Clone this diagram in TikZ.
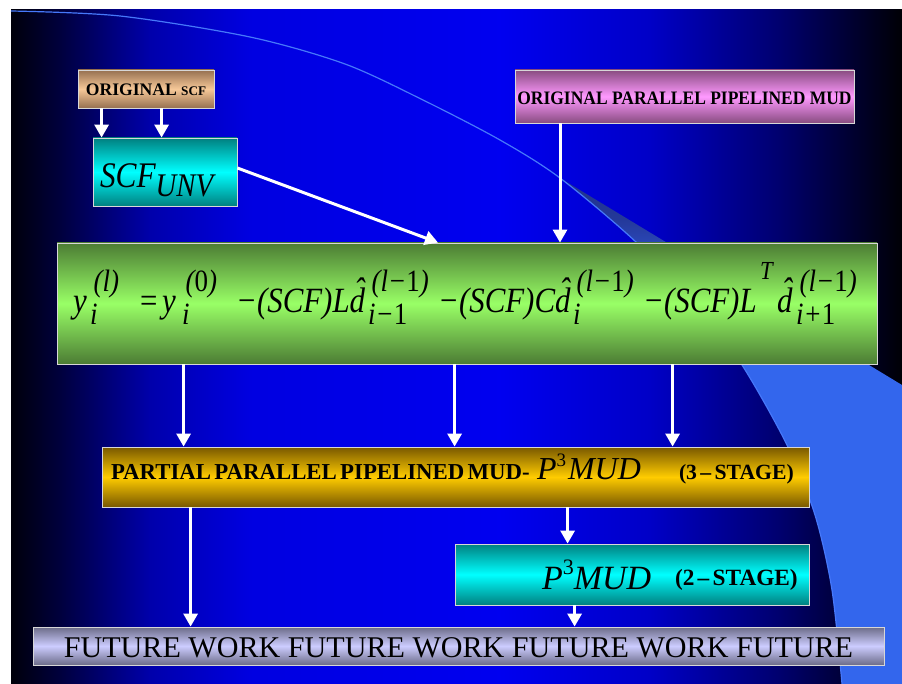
\documentclass[tikz,border=0pt]{standalone}
\usepackage{fontspec}
\setmainfont{Liberation Serif}
\usepackage{graphicx}
\usetikzlibrary{arrows.meta}

\definecolor{brownD}{RGB}{150,112,80}
\definecolor{brownL}{RGB}{246,200,152}
\definecolor{cyanD}{RGB}{0,128,128}
\definecolor{cyanL}{RGB}{0,255,255}
\definecolor{pinkD}{RGB}{136,76,128}
\definecolor{pinkL}{RGB}{255,153,255}
\definecolor{greenD}{RGB}{76,124,52}
\definecolor{greenL}{RGB}{153,255,102}
\definecolor{goldD}{RGB}{120,88,0}
\definecolor{goldL}{RGB}{255,204,0}
\definecolor{lavD}{RGB}{108,108,136}
\definecolor{lavL}{RGB}{204,204,255}
\definecolor{arcline}{RGB}{70,120,250}
\definecolor{boxedge}{RGB}{215,215,215}

\pgfdeclarehorizontalshading{bgshade}{100bp}{rgb(0bp)=(0,0,0.04); rgb(25bp)=(0,0,0.04); rgb(27.75bp)=(0,0,0.24); rgb(32.8bp)=(0,0,0.67); rgb(38.4bp)=(0,0,0.88); rgb(52.45bp)=(0,0,0.94); rgb(60.85bp)=(0,0,0.78); rgb(68.15bp)=(0,0,0.43); rgb(75bp)=(0,0,0.02); rgb(100bp)=(0,0,0.02)}
\pgfdeclareverticalshading{wedgeshade}{100bp}{rgb(0bp)=(0.2,0.4,0.93); rgb(61bp)=(0.2,0.4,0.93); rgb(67bp)=(0.18,0.31,0.78); rgb(71bp)=(0.14,0.22,0.6); rgb(75bp)=(0.13,0.2,0.55); rgb(100bp)=(0.13,0.2,0.55)}

% equation helpers
\newcommand\pc[2]{\makebox[#1pt][l]{\scalebox{0.87}[1]{#2}}}
\newcommand\mfont{\fontsize{35.5}{38}\selectfont\itshape}
\newcommand\scrf{\fontsize{31}{32}\selectfont\itshape}
\newcommand\scpair[2]{\rlap{\raisebox{21pt}{\hspace{4pt}\scrf #1}}\raisebox{-12pt}{\scrf #2}}
\newcommand\hatd{\rlap{\hspace{5pt}\raisebox{10.5pt}{\char"02C6}}d}

\tikzset{
  slidebox/.style={draw=boxedge, line width=0.8pt, inner sep=0pt, text depth=0pt, anchor=center},
  arr/.style={draw=white, line width=3pt, -{Triangle[width=14pt,length=13pt]}},
}

\begin{document}
\begin{tikzpicture}[x=1pt,y=-1pt]
\useasboundingbox (0,0) rectangle (902,684);
\fill[white] (0,0) rectangle (902,684);
\shade[shading=bgshade] (11,10) rectangle (902,684);
\shade[shading=wedgeshade] plot[smooth] coordinates {(560,178) (637,243) (700,310) (742,365) (787,445) (815,515) (832,590) (842,684)} -- (902,684) -- (902,385) -- cycle;
\draw[arcline, line width=1.2pt] plot[smooth] coordinates {(11,11) (120,16) (250,37) (345,64) (423,100) (500,140) (560,178) (637,243) (700,310) (742,365) (787,445) (815,515) (832,590) (842,684)};

% boxes
\node[slidebox, top color=brownD, bottom color=brownD, middle color=brownL,
  minimum width=136pt, minimum height=38pt, text height=14pt] (osc) at (146,89)
  {\bfseries\fontsize{17.6}{19}\selectfont ORIGINAL {\fontsize{13.2}{14}\selectfont SCF}};

\node[slidebox, top color=cyanD, bottom color=cyanD, middle color=cyanL,
  minimum width=144pt, minimum height=68pt, text height=32pt, text width=130pt, align=left, inner xsep=7pt] (scf) at (165,172)
  {\scalebox{0.87}[1]{\itshape\fontsize{36}{40}\selectfont SCF\raisebox{-9pt}{\fontsize{33}{36}\selectfont UNV}}};

\node[slidebox, top color=pinkD, bottom color=pinkD, middle color=pinkL,
  minimum width=339pt, minimum height=53pt, text height=17pt] (opm) at (684.5,96.5)
  {\scalebox{0.92}[1]{\bfseries\fontsize{19}{21}\selectfont ORIGINAL PARALLEL PIPELINED MUD}};

\node[slidebox, top color=greenD, bottom color=greenD, middle color=greenL,
  minimum width=820pt, minimum height=121pt] (green) at (467,303.5) {};
\node[anchor=base west, inner sep=0pt] (eq) at (73,313)
  {\mfont\pc{17}{y}\pc{48}{\scpair{(l)}{i}}\pc{24}{=}\pc{20}{y}\pc{54}{\scpair{({\upshape 0})}{i}}\pc{132}{−(SCF)L\hatd}\pc{70}{\scpair{(l−{\upshape 1})}{i−{\upshape 1}}}\pc{135}{−(SCF)C\hatd}\pc{70}{\scpair{(l−{\upshape 1})}{i}}\pc{117}{−(SCF)L}\pc{17}{\raisebox{33pt}{\fontsize{26}{27}\selectfont T}}\pc{19}{\hatd}\pc{61}{\scpair{(l−{\upshape 1})}{i+{\upshape 1}}}};

\node[slidebox, top color=goldD, bottom color=goldD, middle color=goldL,
  minimum width=707pt, minimum height=60pt, text height=4pt, text width=689pt, align=left, inner xsep=9pt] (orange) at (455.5,477)
  {\makebox[426pt][l]{\bfseries\fontsize{22.8}{24}\selectfont PARTIAL PARALLEL PIPELINED MUD-}\makebox[142pt][l]{\itshape\fontsize{32}{34}\selectfont P\raisebox{13pt}{\upshape\fontsize{19}{20}\selectfont 3}\hspace{2pt}MUD}{\bfseries\fontsize{21.7}{23}\selectfont (3 – STAGE)}};

\node[slidebox, top color=cyanD, bottom color=cyanD, middle color=cyanL,
  minimum width=354pt, minimum height=61pt, text height=29pt, text width=354pt, align=left, inner xsep=0pt] (cyan2) at (632,574.5)
  {\hspace*{87pt}\makebox[133pt][l]{\itshape\fontsize{34}{36}\selectfont P\raisebox{15pt}{\upshape\fontsize{22}{24}\selectfont 3}MUD}\raisebox{4pt}{\bfseries\fontsize{23.3}{25}\selectfont (2 – STAGE)}};

\node[slidebox, top color=lavD, bottom color=lavD, middle color=lavL,
  minimum width=851pt, minimum height=38pt, text height=22pt] (fut) at (458.5,646)
  {\fontsize{30.1}{32}\selectfont FUTURE WORK FUTURE WORK FUTURE WORK FUTURE};

% connectors
\draw[arr] ([xshift=24pt]osc.south west) -- ([xshift=24pt]osc.south west |- scf.north);
\draw[arr] ([xshift=84pt]osc.south west) -- ([xshift=84pt]osc.south west |- scf.north);
\draw[arr] ([yshift=4pt]scf.east) -- ([xshift=-29pt]green.north);
\draw[arr] ([xshift=-124.5pt]opm.south) -- ([xshift=-124.5pt]opm.south |- green.north);
\draw[arr] ([xshift=127pt]green.south west) -- ([xshift=127pt]green.south west |- orange.north);
\draw[arr] ([xshift=398pt]green.south west) -- ([xshift=398pt]green.south west |- orange.north);
\draw[arr] ([xshift=616pt]green.south west) -- ([xshift=616pt]green.south west |- orange.north);
\draw[arr] ([xshift=89pt]orange.south west) -- ([xshift=89pt]orange.south west |- fut.north);
\draw[arr] ([xshift=466pt]orange.south west) -- ([xshift=466pt]orange.south west |- cyan2.north);
\draw[arr] ([xshift=120pt]cyan2.south west) -- ([xshift=120pt]cyan2.south west |- fut.north);
\end{tikzpicture}
\end{document}
